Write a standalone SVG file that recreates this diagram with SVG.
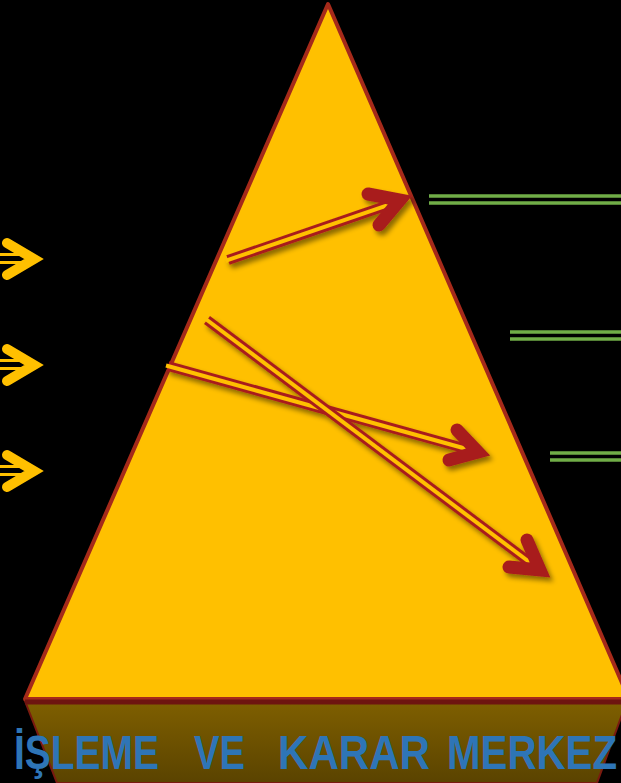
<svg xmlns="http://www.w3.org/2000/svg" width="621" height="783" viewBox="0 0 621 783">
<style>
.ylw{fill:none;stroke:#ffc000;stroke-linecap:round;stroke-linejoin:miter;stroke-width:10}
.ysh{stroke:#ffc000;stroke-width:3}
.grn{stroke:#70ad47;stroke-width:3.5}
.rshaft{fill:none;stroke:#a81f1f;stroke-width:10}
.rin{fill:none;stroke:#ffc000;stroke-width:4}
.rhead{fill:none;stroke:#a81f1f;stroke-width:13;stroke-linecap:round;stroke-linejoin:miter;stroke-miterlimit:10}
.lbl{font-family:"Liberation Sans",Arial,sans-serif;font-weight:bold;font-size:48px;fill:#2e75b6}
</style>
<defs>
<linearGradient id="base" x1="0" y1="0" x2="0" y2="1">
<stop offset="0" stop-color="#7f5f00"/>
<stop offset="1" stop-color="#5a4300"/>
</linearGradient>
<filter id="sh" x="-20%" y="-20%" width="140%" height="140%">
<feDropShadow dx="3" dy="4" stdDeviation="2.5" flood-color="#000" flood-opacity="0.45"/>
</filter>
</defs>
<rect width="621" height="783" fill="#000"/>
<g id="pyramid">
<polygon points="25,701 627,701 597,783 57,783" fill="url(#base)" stroke="#7a1a10" stroke-width="2"/>
<polygon points="328,4 629,699 25,699" fill="#ffc000" stroke="#a52a1a" stroke-width="4" stroke-linejoin="round"/>
<line x1="25" y1="702" x2="629" y2="702" stroke="#6e1410" stroke-width="5"/>
</g>
<g id="inputs">
<g id="in1">
<line class="ysh" x1="0" y1="254.5" x2="28" y2="254.5"/>
<line class="ysh" x1="0" y1="262.5" x2="28" y2="262.5"/>
<path class="ylw" d="M7,243 L34,259 L7,275"/>
</g>
<g id="in2">
<line class="ysh" x1="0" y1="360.5" x2="28" y2="360.5"/>
<line class="ysh" x1="0" y1="368.5" x2="28" y2="368.5"/>
<path class="ylw" d="M7,349 L34,365 L7,381"/>
</g>
<g id="in3">
<line class="ysh" x1="0" y1="466.5" x2="28" y2="466.5"/>
<line class="ysh" x1="0" y1="474.5" x2="28" y2="474.5"/>
<path class="ylw" d="M7,455 L34,471 L7,487"/>
</g>
</g>
<g id="outputs">
<g id="out1"><line class="grn" x1="429" y1="196" x2="621" y2="196"/><line class="grn" x1="429" y1="203" x2="621" y2="203"/></g>
<g id="out2"><line class="grn" x1="510" y1="332" x2="621" y2="332"/><line class="grn" x1="510" y1="339" x2="621" y2="339"/></g>
<g id="out3"><line class="grn" x1="550" y1="453" x2="621" y2="453"/><line class="grn" x1="550" y1="460" x2="621" y2="460"/></g>
</g>
<g id="connectors" filter="url(#sh)">
<g id="a1">
<line class="rshaft" x1="228" y1="260" x2="400" y2="201"/>
<line class="rin" x1="226" y1="260.7" x2="396" y2="202.4"/>
<path class="rhead" d="M368,194 L400,200 L379,225"/>
</g>
<g id="a2">
<line class="rshaft" x1="168" y1="366" x2="478" y2="452"/>
<line class="rin" x1="166" y1="365.5" x2="474" y2="451"/>
<path class="rhead" d="M457,430 L478,452 L449,460"/>
</g>
<g id="a3">
<line class="rshaft" x1="207" y1="320" x2="540" y2="570"/>
<line class="rin" x1="205" y1="318.5" x2="536" y2="567"/>
<path class="rhead" d="M527,540 L540,570 L509,567"/>
</g>
</g>
<g id="title">
<text class="lbl" x="14" y="769" textLength="145" lengthAdjust="spacingAndGlyphs">İŞLEME</text>
<text class="lbl" x="194" y="769" textLength="51" lengthAdjust="spacingAndGlyphs">VE</text>
<text class="lbl" x="278" y="769" textLength="152" lengthAdjust="spacingAndGlyphs">KARAR</text>
<text class="lbl" x="447" y="769" textLength="170" lengthAdjust="spacingAndGlyphs">MERKEZ</text>
</g>
</svg>
